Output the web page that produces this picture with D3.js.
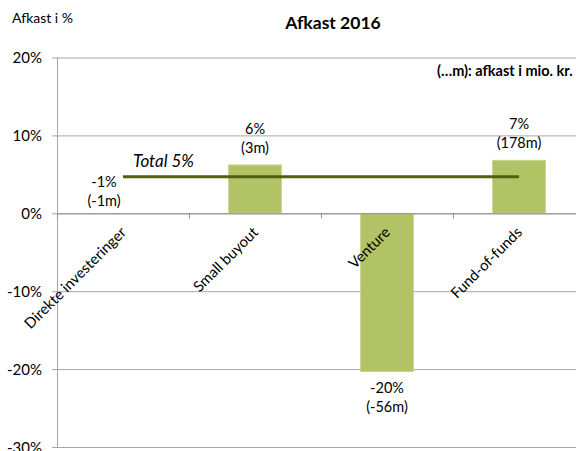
<!DOCTYPE html>
<html>
<head>
<meta charset="utf-8">
<script src="https://d3js.org/d3.v7.min.js"></script>
<style>
  body { margin: 0; background: white; }
  text { font-family: Lato, "Open Sans", sans-serif; fill: #000; }
</style>
</head>
<body>
<svg width="576" height="451" id="MainSVG"></svg>
<script>
// chart data
const categories = ["Direkte investeringer", "Small buyout", "Venture", "Fund-of-funds"];
const returnPct = [0, 6.2, -20.3, 6.8];           // bar heights
const pctLabels = ["-1%", "6%", "-20%", "7%"];
const mLabels = ["(-1m)", "(3m)", "(-56m)", "(178m)"];
const totalPct = [4.7, 4.7, 4.7, 4.7];            // total line, one point per category
const yTicks = [-30, -20, -10, 0, 10, 20];

var svg = d3.select("#MainSVG");

// scales
var xs = d3.scaleBand()
  .domain(categories)
  .range([57, 585])
  .paddingInner(0.6)
  .paddingOuter(0.3);

var ys = d3.scaleLinear()
  .domain([-30, 20])
  .range([447, 57.5]);

// gridlines
svg.append("g")
  .attr("transform", "translate(57,0)")
  .call(d3.axisLeft(ys).tickValues(yTicks).tickSize(-528).tickFormat(""))
  .call(g => g.select(".domain").remove())
  .selectAll("line").attr("stroke", "#a6a6a6");

// y axis
var yAxis = svg.append("g")
  .attr("transform", "translate(57,0)")
  .call(d3.axisLeft(ys).tickValues(yTicks).tickSize(5).tickPadding(10).tickFormat(d => d + "%"));
yAxis.select(".domain").attr("stroke", "#a6a6a6").attr("d", "M0.5," + ys(20) + "V" + ys(-30));
yAxis.selectAll("line").attr("stroke", "#a6a6a6");
yAxis.selectAll("text").style("font-size", "15px").attr("dy", "0.35em");

// bars
svg.selectAll(".bar")
  .data(returnPct)
  .enter().append("rect")
  .attr("class", "bar")
  .attr("x", (d, i) => xs(categories[i]))
  .attr("width", xs.bandwidth())
  .attr("y", d => ys(Math.max(0, d)))
  .attr("height", d => Math.abs(ys(d) - ys(0)))
  .attr("fill", "#b2c366")
  .attr("stroke", "#c6d58a")
  .attr("stroke-width", 1);

// x axis at zero
var step = xs.step();
var bounds = d3.range(categories.length + 1).map(i => 57 + i * step);
var xAxis = svg.append("g");
xAxis.append("line")
  .attr("x1", 57).attr("x2", 585)
  .attr("y1", ys(0) + 0.5).attr("y2", ys(0) + 0.5)
  .attr("stroke", "#909090");
xAxis.selectAll(".xtick")
  .data(bounds)
  .enter().append("line")
  .attr("x1", d => d + 0.5).attr("x2", d => d + 0.5)
  .attr("y1", ys(0)).attr("y2", ys(0) + 5)
  .attr("stroke", "#909090");

// category labels
svg.selectAll(".cat")
  .data(categories)
  .enter().append("text")
  .attr("class", "cat")
  .attr("text-anchor", "end")
  .attr("transform", d => "translate(" + (xs(d) + xs.bandwidth() / 2 + 4) + "," + (ys(0) + 20) + ") rotate(-45)")
  .style("font-size", "14.8px")
  .text(d => d);

// total line
var line = d3.line()
  .x((d, i) => xs(categories[i]) + xs.bandwidth() / 2)
  .y(d => ys(d));
svg.append("path")
  .datum(totalPct)
  .attr("d", line)
  .attr("fill", "none")
  .attr("stroke", "#4f6110")
  .attr("stroke-width", 3);

svg.append("text")
  .attr("x", 133)
  .attr("y", ys(totalPct[0]) - 10)
  .style("font-size", "17px")
  .style("font-style", "italic")
  .text("Total 5%");

// value labels
var labels = svg.selectAll(".vlab")
  .data(returnPct)
  .enter().append("g")
  .attr("class", "vlab")
  .attr("transform", (d, i) => {
    var cx = xs(categories[i]) + xs.bandwidth() / 2 - (i == 0 ? 19 : 0);
    var cy = d > 0 ? ys(d) - 31 : (d < 0 ? ys(d) + 22 : ys(0) - 26);
    return "translate(" + cx + "," + cy + ")";
  });
labels.append("text")
  .attr("text-anchor", "middle")
  .style("font-size", "14.5px")
  .text((d, i) => pctLabels[i]);
labels.append("text")
  .attr("text-anchor", "middle")
  .attr("y", 19)
  .style("font-size", "14.5px")
  .text((d, i) => mLabels[i]);

// titles
svg.append("text")
  .attr("x", 333)
  .attr("y", 29)
  .attr("text-anchor", "middle")
  .style("font-size", "17.5px")
  .style("font-weight", "bold")
  .text("Afkast 2016");

svg.append("text")
  .attr("x", 12)
  .attr("y", 23)
  .style("font-size", "14px")
  .text("Afkast i %");

svg.append("text")
  .attr("x", 437)
  .attr("y", 76)
  .style("font-size", "14.5px")
  .style("font-weight", "bold")
  .text("(…m): afkast i mio. kr.");
</script>
</body>
</html>
